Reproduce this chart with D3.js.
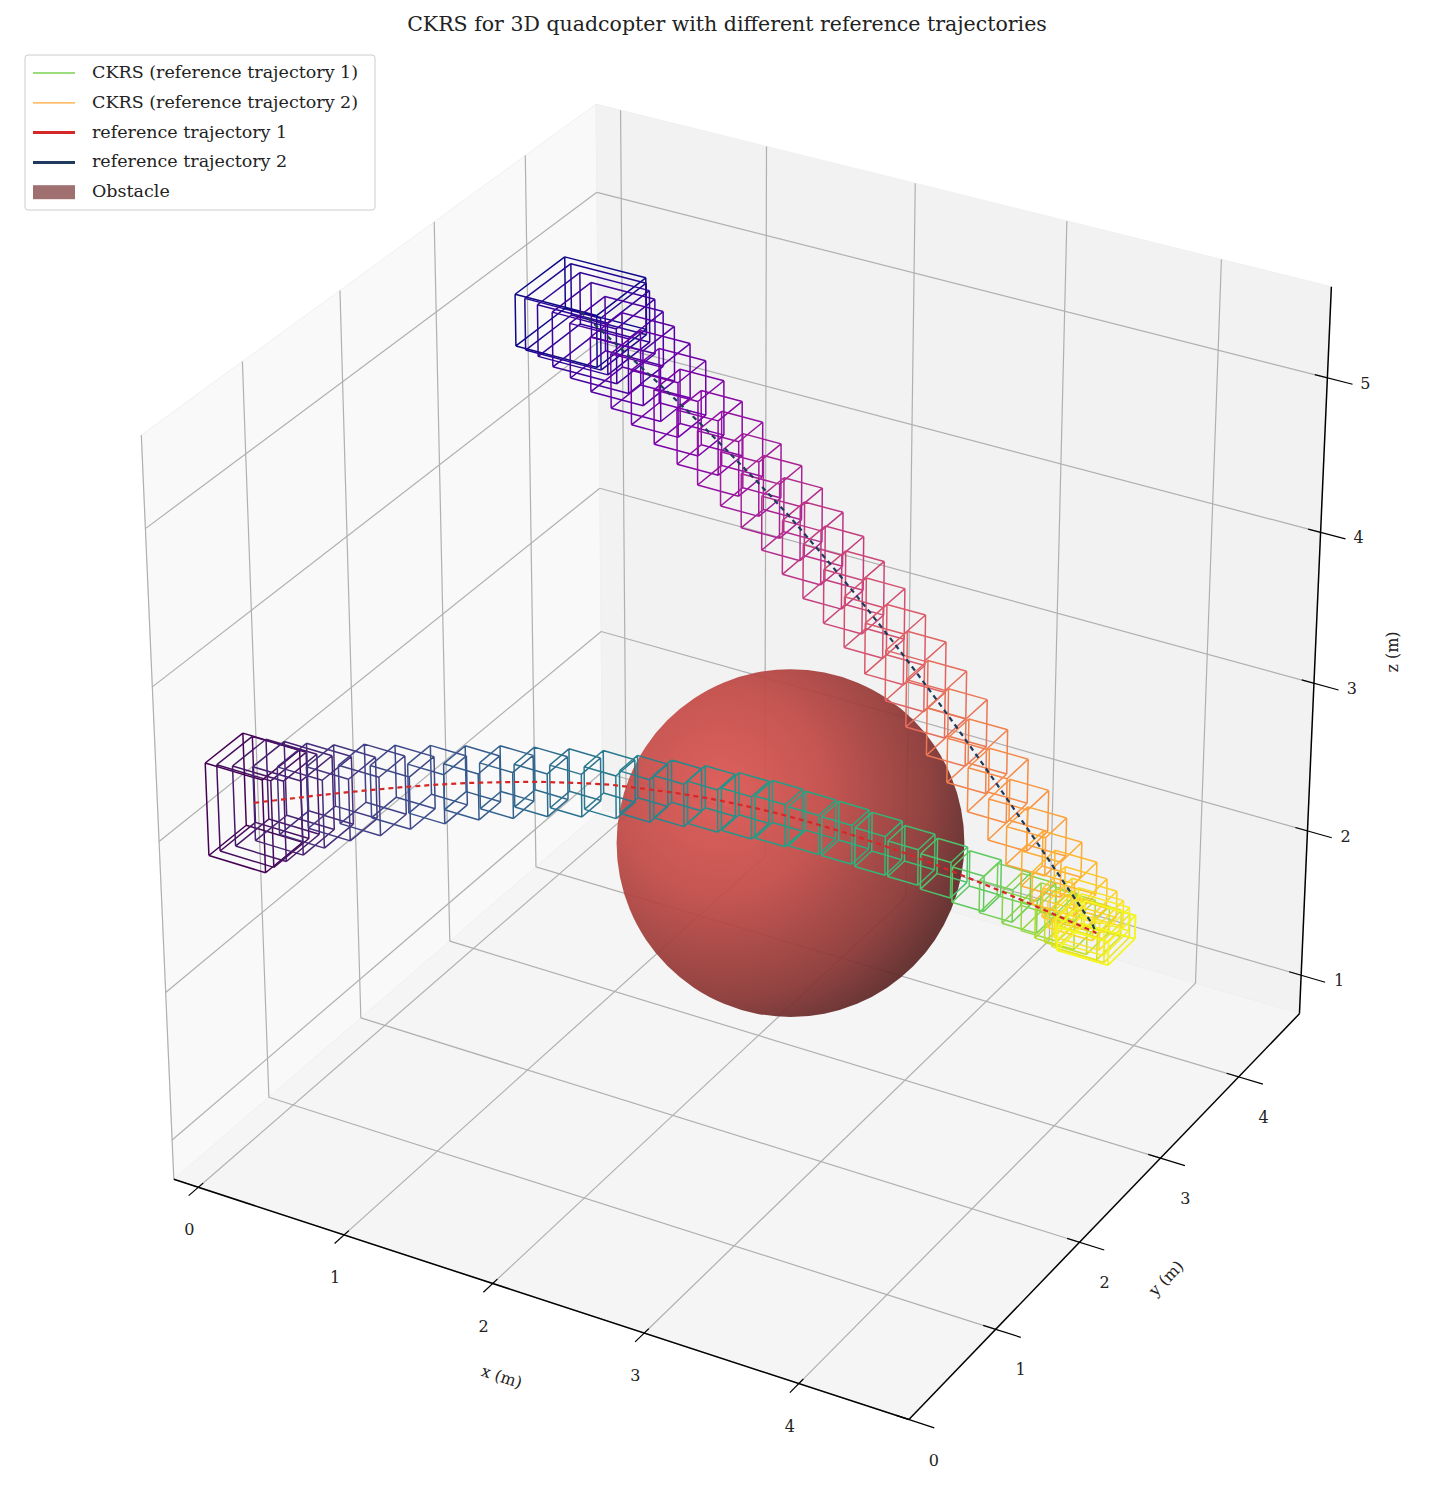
<!DOCTYPE html>
<html><head><meta charset="utf-8">
<script src="https://cdn.jsdelivr.net/npm/d3@7"></script>
<style>body{margin:0;background:#fff}svg text{font-family:"DejaVu Serif","Liberation Serif",serif;fill:#222}</style>
</head><body><svg id="c" width="1455" height="1485"></svg>
<script>
// ---- data ----
const xLim = [-0.17, 4.7], yLim = [0, 4.8], zLim = [0.73, 5.58];
const xTicks = [0,1,2,3,4], yTicks = [0,1,2,3,4], zTicks = [1,2,3,4,5];
// reference trajectory 1 (x, y, z)
const ref1X = [0.35,0.385,0.436,0.505,0.59,0.695,0.815,0.935,1.073,1.21,1.348,1.485,1.622,1.76,1.897,2.034,2.171,2.309,2.446,2.583,2.72,2.858,2.995,3.132,3.27,3.39,3.492,3.578,3.647,3.698,3.739,3.767,3.78];
const ref1Y = [0.2,0.237,0.2925,0.3665,0.459,0.57,0.70,0.829,0.977,1.125,1.273,1.421,1.569,1.717,1.865,2.013,2.161,2.309,2.457,2.605,2.753,2.901,3.049,3.197,3.345,3.4745,3.5855,3.678,3.752,3.8075,3.852,3.8815,3.9];
const ref1Z = [3.3,3.298,3.294,3.289,3.283,3.275,3.262,3.248,3.229,3.204,3.173,3.138,3.095,3.048,2.984,2.918,2.844,2.762,2.673,2.575,2.472,2.361,2.246,2.123,1.997,1.885,1.785,1.702,1.634,1.584,1.544,1.517,1.5];
// reference trajectory 2
const ref2X = [0.2,0.235,0.29,0.36,0.45,0.56,0.685,0.81,0.952,1.095,1.237,1.38,1.523,1.665,1.808,1.951,2.093,2.236,2.379,2.521,2.664,2.807,2.949,3.092,3.235,3.36,3.467,3.556,3.628,3.681,3.727,3.753,3.78];
const ref2Y = [4.0,3.999,3.9975,3.9955,3.993,3.99,3.9865,3.983,3.979,3.975,3.971,3.967,3.963,3.959,3.955,3.951,3.947,3.943,3.939,3.935,3.931,3.927,3.923,3.919,3.915,3.9115,3.9085,3.906,3.904,3.9025,3.9013,3.9005,3.9];
const ref2Z = [4.65,4.628,4.597,4.553,4.499,4.434,4.356,4.278,4.186,4.09,3.991,3.889,3.783,3.674,3.553,3.432,3.306,3.175,3.039,2.899,2.754,2.605,2.453,2.297,2.138,1.998,1.875,1.773,1.692,1.631,1.581,1.549,1.5];
// CKRS box half-extents (horizontal, vertical)
const box1H = [0.19,0.18,0.17,0.16,0.15,0.14,0.135,0.13,0.12,0.115,0.11,0.11,0.105,0.105,0.1,0.1,0.1,0.1,0.1,0.1,0.1,0.1,0.1,0.1,0.105,0.11,0.115,0.12,0.13,0.14,0.15,0.16,0.17];
const box1V = [0.3,0.28,0.26,0.24,0.22,0.2,0.19,0.17,0.16,0.15,0.15,0.14,0.14,0.14,0.14,0.14,0.14,0.14,0.14,0.13,0.13,0.13,0.12,0.12,0.12,0.11,0.11,0.1,0.1,0.09,0.09,0.08,0.08];
const box2H = [0.28,0.26,0.24,0.22,0.2,0.18,0.17,0.16,0.15,0.14,0.14,0.13,0.13,0.13,0.13,0.13,0.13,0.13,0.13,0.13,0.13,0.13,0.13,0.13,0.13,0.13,0.13,0.14,0.14,0.15,0.15,0.16,0.17];
const box2V = [0.17,0.17,0.17,0.18,0.18,0.18,0.18,0.18,0.18,0.18,0.18,0.18,0.18,0.18,0.18,0.18,0.18,0.17,0.17,0.17,0.16,0.16,0.15,0.15,0.14,0.13,0.12,0.11,0.1,0.09,0.09,0.08,0.08];
const sphereC = [2.5, 2.5, 2.47], sphereR = 1.15;
const legendItems = [
  {label:"CKRS (reference trajectory 1)", type:"line", color:"#7ad151", w:1.3},
  {label:"CKRS (reference trajectory 2)", type:"line", color:"#fca636", w:1.3},
  {label:"reference trajectory 1", type:"line", color:"#d62728", w:3},
  {label:"reference trajectory 2", type:"line", color:"#1f3a5c", w:3},
  {label:"Obstacle", type:"patch", color:"#a07070"}
];
// calibration points: [x,y,z,px,py]
const calib = [
 [xLim[0],yLim[0],zLim[0],173,1179],[xLim[1],yLim[0],zLim[0],909,1418],[xLim[1],yLim[1],zLim[0],1301,1012],
 [xLim[1],yLim[1],zLim[1],1332,288],[xLim[0],yLim[0],zLim[1],140,435],[xLim[0],yLim[1],zLim[1],597,105],
 [0,0,zLim[0],198,1187],[1,0,zLim[0],344,1235],[2,0,zLim[0],494,1283],[3,0,zLim[0],646,1333],[4,0,zLim[0],800,1383],
 [xLim[1],1,zLim[0],995,1330],[xLim[1],2,zLim[0],1079,1244],[xLim[1],3,zLim[0],1159,1161],[xLim[1],4,zLim[0],1237,1080],
 [xLim[1],yLim[1],1,1302,973],[xLim[1],yLim[1],2,1307,830],[xLim[1],yLim[1],3,1313,683],[xLim[1],yLim[1],4,1320,531],[xLim[1],yLim[1],5,1328,377]
];
// ---- projection (fitted camera) ----
function solve(A,b){const n=b.length;A=A.map((r,i)=>r.concat([b[i]]));
 for(let i=0;i<n;i++){let p=i;for(let k=i+1;k<n;k++)if(Math.abs(A[k][i])>Math.abs(A[p][i]))p=k;[A[i],A[p]]=[A[p],A[i]];
  for(let k=i+1;k<n;k++){const f=A[k][i]/A[i][i];for(let j=i;j<=n;j++)A[k][j]-=f*A[i][j];}}
 const x=new Array(n).fill(0);for(let i=n-1;i>=0;i--){let s=A[i][n];for(let j=i+1;j<n;j++)s-=A[i][j]*x[j];x[i]=s/A[i][i];}return x;}
const rows=[],rhs=[];
calib.forEach(([X,Y,Z,u,v])=>{u/=1000;v/=1000;
 rows.push([X,Y,Z,1,0,0,0,0,-u*X,-u*Y,-u*Z]);rhs.push(u);
 rows.push([0,0,0,0,X,Y,Z,1,-v*X,-v*Y,-v*Z]);rhs.push(v);});
const N=[],r=[];for(let i=0;i<11;i++){N.push([]);let s=0;for(let k=0;k<rows.length;k++)s+=rows[k][i]*rhs[k];r.push(s);
 for(let j=0;j<11;j++){let t=0;for(let k=0;k<rows.length;k++)t+=rows[k][i]*rows[k][j];N[i].push(t);}}
const P=solve(N,r);
function proj(x,y,z){const w=P[8]*x+P[9]*y+P[10]*z+1;return [1000*(P[0]*x+P[1]*y+P[2]*z+P[3])/w,1000*(P[4]*x+P[5]*y+P[6]*z+P[7])/w];}
const svg=d3.select("#c");
const line=d3.line();
const pl=pts=>line(pts.map(p=>proj(...p)));
// panes
const [x0,x1]=xLim,[y0,y1]=yLim,[z0,z1]=zLim;
const panes=[
 {pts:[[x0,y0,z0],[x0,y1,z0],[x0,y1,z1],[x0,y0,z1]],c:"#f9f9f9"},
 {pts:[[x0,y1,z0],[x1,y1,z0],[x1,y1,z1],[x0,y1,z1]],c:"#f2f2f2"},
 {pts:[[x0,y0,z0],[x1,y0,z0],[x1,y1,z0],[x0,y1,z0]],c:"#f5f5f5"}];
svg.append("g").selectAll("path").data(panes).join("path").attr("d",d=>pl(d.pts)+"Z").attr("fill",d=>d.c).attr("stroke","#f0f0f0").attr("stroke-width",1);
// grid
const grid=[];
xTicks.forEach(x=>{grid.push([[x,y0,z0],[x,y1,z0]]);grid.push([[x,y1,z0],[x,y1,z1]]);});
yTicks.forEach(y=>{grid.push([[x0,y,z0],[x1,y,z0]]);grid.push([[x0,y,z0],[x0,y,z1]]);});
zTicks.forEach(z=>{grid.push([[x0,y0,z],[x0,y1,z]]);grid.push([[x0,y1,z],[x1,y1,z]]);});
svg.append("g").selectAll("path").data(grid).join("path").attr("d",pl).attr("stroke","#b0b0b0").attr("stroke-width",1.2).attr("fill","none");
// axes
const ax=svg.append("g").attr("stroke","#000").attr("fill","none");
ax.append("path").attr("d",pl([[x0,y0,z0],[x1,y0,z0]])).attr("stroke-width",1.5);
ax.append("path").attr("d",pl([[x1,y0,z0],[x1,y1,z0]])).attr("stroke-width",1.5);
ax.append("path").attr("d",pl([[x1,y1,z0],[x1,y1,z1]])).attr("stroke-width",1.5);
const tg=svg.append("g");
xTicks.forEach(x=>{tg.append("path").attr("d",pl([[x,y0+0.05,z0],[x,y0-0.1,z0]])).attr("stroke","#000").attr("stroke-width",1.2);
 const p=proj(x,y0,z0);tg.append("text").attr("x",p[0]-9).attr("y",p[1]+48).attr("text-anchor","middle").attr("font-size",16).text(x);});
yTicks.forEach(y=>{tg.append("path").attr("d",pl([[x1-0.08,y,z0],[x1+0.16,y,z0]])).attr("stroke","#000").attr("stroke-width",1.2);
 const p=proj(x1,y,z0);tg.append("text").attr("x",p[0]+25).attr("y",p[1]+46).attr("text-anchor","middle").attr("font-size",16).text(y);});
zTicks.forEach(z=>{tg.append("path").attr("d",pl([[x1-0.08,y1,z],[x1+0.16,y1,z]])).attr("stroke","#000").attr("stroke-width",1.2);
 const p=proj(x1,y1,z);tg.append("text").attr("x",p[0]+38).attr("y",p[1]+11).attr("text-anchor","middle").attr("font-size",16).text(z);});
svg.append("text").attr("transform","translate(500,1382) rotate(18)").attr("text-anchor","middle").attr("font-size",16).text("x (m)");
svg.append("text").attr("transform","translate(1170,1282) rotate(-46)").attr("text-anchor","middle").attr("font-size",16).text("y (m)");
svg.append("text").attr("transform","translate(1398,652) rotate(-90)").attr("text-anchor","middle").attr("font-size",16).text("z (m)");
// sphere
const defs=svg.append("defs");
const gr=defs.append("radialGradient").attr("id","sg").attr("cx","0.3").attr("cy","0.35").attr("r","0.85");
[[0,"#dc5652"],[0.35,"#c24a46"],[0.7,"#8a3634"],[1,"#3a1c1c"]].forEach(([o,c])=>gr.append("stop").attr("offset",o).attr("stop-color",c));
const sc=proj(...sphereC),st=proj(sphereC[0],sphereC[1],sphereC[2]+sphereR);
const srad=Math.hypot(sc[0]-st[0],sc[1]-st[1]);
svg.append("circle").attr("cx",sc[0]).attr("cy",sc[1]).attr("r",srad).attr("fill","url(#sg)").attr("opacity",0.93);
// boxes
function boxPath(c,h,v){const [x,y,z]=c;const k=[];
 for(const dz of[-1,1])for(const dy of[-1,1])for(const dx of[-1,1])k.push(proj(x+dx*h,y+dy*h,z+dz*v));
 const E=[[0,1],[2,3],[4,5],[6,7],[0,2],[1,3],[4,6],[5,7],[0,4],[1,5],[2,6],[3,7]];
 return E.map(([a,b])=>"M"+k[a].join(",")+"L"+k[b].join(",")).join("");}
function drawBoxes(X,Y,Z,H,V,cm){const n=X.length;
 svg.append("g").selectAll("path").data(d3.range(n)).join("path")
  .attr("d",i=>boxPath([X[i],Y[i],Z[i]],H[i],V[i])).attr("fill","none")
  .attr("stroke",i=>cm(i/(n-1))).attr("stroke-width",1.5);}
drawBoxes(ref1X,ref1Y,ref1Z,box1H,box1V,d3.interpolateViridis);
drawBoxes(ref2X,ref2Y,ref2Z,box2H,box2V,d3.interpolatePlasma);
// reference lines
svg.append("path").attr("d",pl(ref1X.map((x,i)=>[x,ref1Y[i],ref1Z[i]]))).attr("stroke","#d62728").attr("stroke-width",2.2).attr("fill","none").attr("stroke-dasharray","5,4");
svg.append("path").attr("d",pl(ref2X.map((x,i)=>[x,ref2Y[i],ref2Z[i]]))).attr("stroke","#1f3a5c").attr("stroke-width",2.2).attr("fill","none").attr("stroke-dasharray","5,4");
// title
svg.append("text").attr("x",727).attr("y",31).attr("text-anchor","middle").attr("font-size",20.5).text("CKRS for 3D quadcopter with different reference trajectories");
// legend
const lg=svg.append("g");
lg.append("rect").attr("x",25).attr("y",55).attr("width",350).attr("height",155).attr("rx",3).attr("fill","#fff").attr("fill-opacity",0.85).attr("stroke","#ccc");
legendItems.forEach((d,i)=>{const y=73+i*29.8;
 if(d.type==="line")lg.append("line").attr("x1",33).attr("x2",75).attr("y1",y).attr("y2",y).attr("stroke",d.color).attr("stroke-width",d.w);
 else lg.append("rect").attr("x",33).attr("y",y-7).attr("width",42).attr("height",14).attr("fill",d.color);
 lg.append("text").attr("x",92).attr("y",y+5).attr("font-size",17.5).text(d.label);});
</script></body></html>
